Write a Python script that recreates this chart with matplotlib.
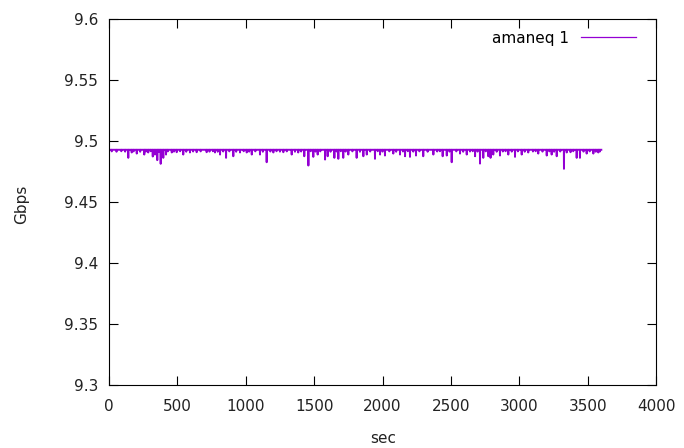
import numpy as np
import matplotlib
matplotlib.use('Agg')
import matplotlib.pyplot as plt

# throughput trace: a flat level with short dips
baseline_gbps = 9.4928
end_sec = 3600

dip_sec = [141, 166, 203, 258, 287, 320, 336, 353, 378, 397, 417, 459, 495, 543,
           592, 641, 714, 775, 812, 856, 909, 958, 1007, 1044, 1104, 1153, 1202,
           1275, 1336, 1384, 1428, 1458, 1494, 1526, 1580, 1599, 1648, 1677, 1713,
           1750, 1811, 1860, 1885, 1945, 1982, 2018, 2079, 2128, 2165, 2201, 2245,
           2298, 2372, 2440, 2470, 2506, 2567, 2616, 2677, 2713, 2737, 2774, 2790,
           2810, 2859, 2920, 2969, 3018, 3066, 3139, 3201, 3237, 3274, 3327, 3347,
           3375, 3420, 3444, 3493, 3542, 3578]
dip_gbps = [9.4862, 9.4906, 9.4897, 9.4889, 9.4906, 9.4873, 9.4889, 9.4843, 9.4813,
            9.4862, 9.4889, 9.4906, 9.4908, 9.4889, 9.4906, 9.4908, 9.4908, 9.4906,
            9.4889, 9.4862, 9.4875, 9.4906, 9.4906, 9.4889, 9.4889, 9.4826, 9.4906,
            9.4908, 9.4889, 9.4906, 9.4875, 9.4799, 9.4870, 9.4889, 9.4848, 9.4875,
            9.4862, 9.4854, 9.4862, 9.4889, 9.4862, 9.4875, 9.4889, 9.4854, 9.4889,
            9.4881, 9.4897, 9.4889, 9.4875, 9.4870, 9.4881, 9.4875, 9.4889, 9.4875,
            9.4881, 9.4826, 9.4897, 9.4889, 9.4875, 9.4815, 9.4862, 9.4875, 9.4862,
            9.4889, 9.4881, 9.4889, 9.4870, 9.4889, 9.4906, 9.4897, 9.4881, 9.4889,
            9.4875, 9.4772, 9.4906, 9.4908, 9.4862, 9.4862, 9.4897, 9.4897, 9.4906]

# small ripples that make the flat part look fuzzy
ripple_sec = [20, 55, 90, 118, 180, 228, 270, 305, 365, 430, 475, 520, 565, 615,
              670, 735, 760, 795, 835, 880, 930, 985, 1025, 1070, 1125, 1180, 1225,
              1250, 1300, 1360, 1405, 1475, 1510, 1545, 1620, 1665, 1695, 1730, 1780,
              1835, 1910, 1965, 2000, 2050, 2100, 2150, 2185, 2225, 2270, 2330, 2400,
              2420, 2490, 2540, 2590, 2640, 2660, 2695, 2755, 2835, 2880, 2900, 2945,
              2990, 3040, 3100, 3120, 3170, 3220, 3255, 3300, 3395, 3470, 3515, 3560, 3590]
ripple_gbps = [9.4915, 9.4912, 9.4916, 9.4913, 9.4915, 9.4912, 9.4914, 9.4916,
               9.4911, 9.4915, 9.4913, 9.4916, 9.4912, 9.4914, 9.4915, 9.4913,
               9.4916, 9.4912, 9.4914, 9.4915, 9.4912, 9.4916, 9.4913, 9.4915,
               9.4912, 9.4914, 9.4916, 9.4913, 9.4915, 9.4912, 9.4914, 9.4916,
               9.4913, 9.4915, 9.4912, 9.4914, 9.4916, 9.4913, 9.4915, 9.4912,
               9.4914, 9.4916, 9.4913, 9.4915, 9.4912, 9.4914, 9.4916, 9.4913,
               9.4915, 9.4912, 9.4914, 9.4916, 9.4913, 9.4915, 9.4912, 9.4914,
               9.4916, 9.4913, 9.4915, 9.4912, 9.4914, 9.4916, 9.4913, 9.4915,
               9.4912, 9.4914, 9.4916, 9.4913, 9.4915, 9.4912, 9.4914, 9.4916,
               9.4913, 9.4915, 9.4912, 9.4914]

time_sec = np.arange(0, end_sec + 1)
rate = np.full(time_sec.shape, baseline_gbps)
rate[ripple_sec] = ripple_gbps
rate[dip_sec] = dip_gbps

plt.rcParams['font.family'] = 'DejaVu Sans'
plt.rcParams['font.size'] = 11

fig = plt.figure(figsize=(6.84, 4.48), dpi=100)
ax = fig.add_axes([109 / 684, 1 - 385 / 448, 547 / 684, 366 / 448])

ax.plot(time_sec, rate, color='#9400d3', linewidth=1.4, label='amaneq 1')

ax.set_xlim(0, 4000)
ax.set_ylim(9.3, 9.6)
ax.set_xticks(np.arange(0, 4001, 500))
ax.set_yticks([9.3, 9.35, 9.4, 9.45, 9.5, 9.55, 9.6])
ax.set_yticklabels(['9.3', '9.35', '9.4', '9.45', '9.5', '9.55', '9.6'])
ax.tick_params(direction='in', length=6.5, width=0.8, top=True, right=True,
               colors='black', labelcolor='#222222')
ax.tick_params(axis='x', pad=10)
ax.tick_params(axis='y', pad=8)
for s in ax.spines.values():
    s.set_linewidth(0.8)

fig.text(22 / 684, 1 - 204 / 448, 'Gbps', rotation=90, ha='center', va='center',
         color='#222222')
fig.text(383 / 684, 1 - 438 / 448, 'sec', ha='center', va='center', color='#222222')

leg = ax.legend(loc='center right', bbox_to_anchor=(636 / 684, 1 - 38 / 448),
                bbox_transform=fig.transFigure, frameon=False, markerfirst=False,
                handlelength=3.6, handletextpad=0.8, borderpad=0, borderaxespad=0)
leg.get_lines()[0].set_linewidth(0.9)

fig.savefig('out.png', dpi=100)
